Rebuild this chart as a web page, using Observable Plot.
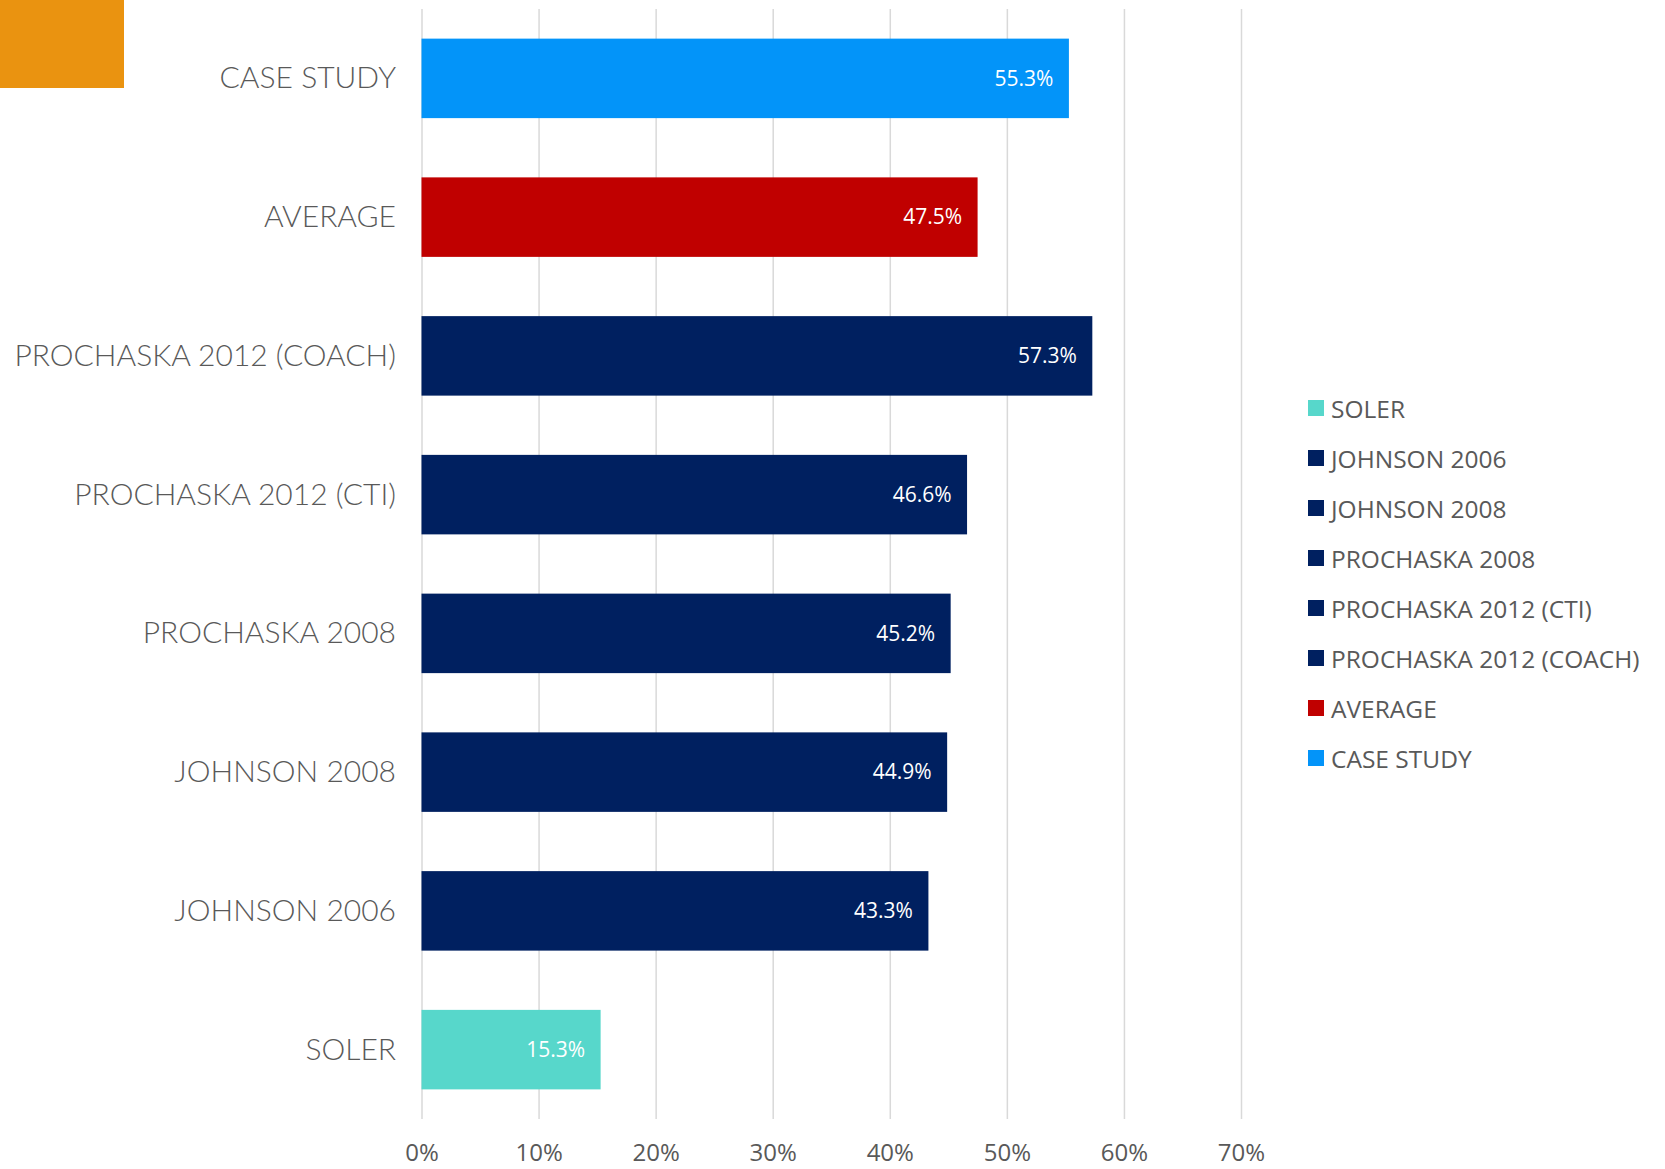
<!DOCTYPE html>
<html>
<head>
<meta charset="utf-8">
<script src="https://cdn.jsdelivr.net/npm/d3@7"></script>
<script src="https://cdn.jsdelivr.net/npm/@observablehq/plot@0.6"></script>
<style>
  html, body { margin: 0; padding: 0; background: #fff; }
  #wrap { position: relative; width: 1665px; height: 1169px; overflow: hidden; }
  #corner { position: absolute; left: 0; top: 0; width: 124px; height: 88px; background: #EA9310; }
  #legend { position: absolute; left: 1308px; top: 383px; font-family: "Open Sans", sans-serif; font-size: 24.5px; color: #595959; }
  .row { height: 50px; display: flex; align-items: center; }
  .sw { width: 16px; height: 16px; margin-right: 7px; flex: none; }
  svg { position: absolute; left: 0; top: 0; }
</style>
</head>
<body>
<div id="wrap">
  <div id="corner"></div>
  <div id="legend"></div>
</div>
<script>
// Categories in legend order (bottom to top on the chart)
const categories = ["SOLER", "JOHNSON 2006", "JOHNSON 2008", "PROCHASKA 2008", "PROCHASKA 2012 (CTI)", "PROCHASKA 2012 (COACH)", "AVERAGE", "CASE STUDY"];
const values = [15.3, 43.3, 44.9, 45.2, 46.6, 57.3, 47.5, 55.3];
const tickValues = [0, 10, 20, 30, 40, 50, 60, 70];

const palette = ["#57D7CB", "#002060", "#002060", "#002060", "#002060", "#002060", "#C00000", "#0394F9"];

const data = categories.map((c, i) => ({category: c, value: values[i] / 100}));

const chart = Plot.plot({
  width: 1665,
  height: 1169,
  marginTop: 9,
  marginBottom: 50,
  marginLeft: 421.5,
  marginRight: 424,
  style: {background: "transparent"},
  x: {domain: [0, 0.7]},
  y: {domain: categories.slice().reverse(), paddingInner: 0.427, paddingOuter: 0.2135, round: false},
  color: {domain: categories, range: palette},
  marks: [
    Plot.gridX(tickValues.map(t => t / 100), {stroke: "#D9D9D9", strokeOpacity: 1, strokeWidth: 1.5}),
    Plot.barX(data, {x: "value", y: "category", fill: "category"}),
    Plot.text(data, {x: "value", y: "category", text: d => d3.format(".1f")(d.value * 100) + "%", textAnchor: "end", dx: -16, fill: "white", fontSize: 21, fontFamily: "Open Sans"}),
    Plot.axisX({ticks: tickValues.map(t => t / 100), tickFormat: d => Math.round(d * 100) + "%", tickSize: 0, tickPadding: 24, fontSize: 24, fontFamily: "Open Sans", color: "#595959", label: null}),
    Plot.axisY({tickSize: 0, tickPadding: 26, fontSize: 30, fontFamily: "Lato", fontWeight: 300, color: "#595959", label: null})
  ]
});
document.getElementById("wrap").appendChild(chart);

const legend = document.getElementById("legend");
categories.forEach((c, i) => {
  const row = document.createElement("div");
  row.className = "row";
  const sw = document.createElement("div");
  sw.className = "sw";
  sw.style.background = palette[i];
  const t = document.createElement("span");
  t.textContent = c;
  row.appendChild(sw);
  row.appendChild(t);
  legend.appendChild(row);
});
</script>
</body>
</html>
